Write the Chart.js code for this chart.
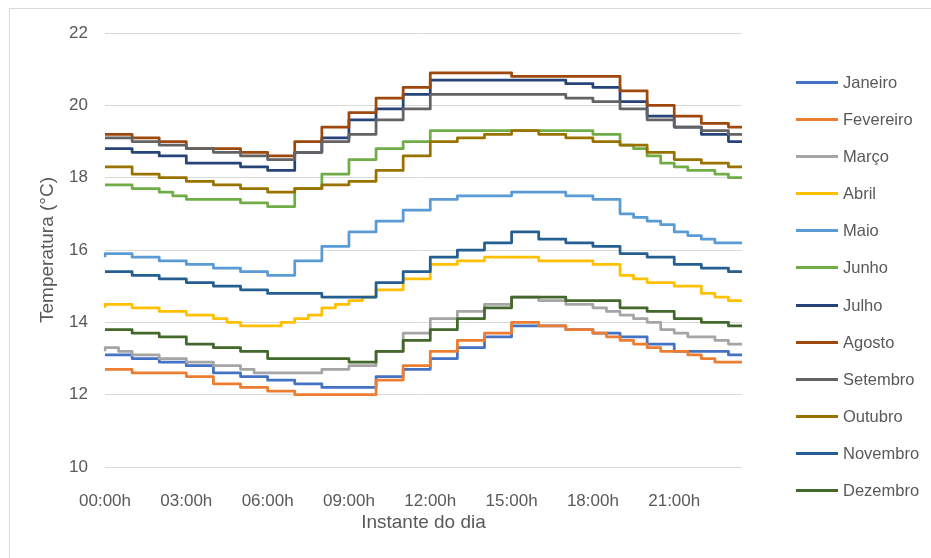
<!DOCTYPE html>
<html lang="pt">
<head>
<meta charset="UTF-8">
<title>Temperatura ao longo do dia</title>
<script src="https://cdn.jsdelivr.net/npm/chart.js@4.4.1/dist/chart.umd.min.js"></script>
<style>
  html, body { margin: 0; padding: 0; background: #fff; }
  #wrap { position: relative; width: 931px; height: 558px; overflow: hidden; font-family: 'Liberation Sans', Arial, sans-serif; }
  #frame { position: absolute; left: 9px; top: 8px; width: 930px; height: 560px; border: 1px solid #d9d9d9; pointer-events: none; }
  #chart { position: absolute; left: 0; top: 0; }
  #legend { position: absolute; left: 796px; top: 0; margin: 0; padding: 0; list-style: none; }
  #legend li { position: absolute; left: 0; height: 20px; display: flex; align-items: center; white-space: nowrap; font-size: 16.5px; color: #595959; }
  #legend li span { display: inline-block; width: 42px; height: 3px; margin-right: 5px; }
</style>
</head>
<body>
<div id="wrap">
  <canvas id="chart" width="931" height="558"></canvas>
  <ul id="legend"></ul>
  <div id="frame"></div>
</div>

<script>
// half-hour instants of the day
const labels = [
  '00:00h','00:30h','01:00h','01:30h','02:00h','02:30h','03:00h','03:30h',
  '04:00h','04:30h','05:00h','05:30h','06:00h','06:30h','07:00h','07:30h',
  '08:00h','08:30h','09:00h','09:30h','10:00h','10:30h','11:00h','11:30h',
  '12:00h','12:30h','13:00h','13:30h','14:00h','14:30h','15:00h','15:30h',
  '16:00h','16:30h','17:00h','17:30h','18:00h','18:30h','19:00h','19:30h',
  '20:00h','20:30h','21:00h','21:30h','22:00h','22:30h','23:00h','23:30h'
];

const months = ['Janeiro','Fevereiro','Março','Abril','Maio','Junho','Julho','Agosto','Setembro','Outubro','Novembro','Dezembro'];
const colors = ['#4472C4','#ED7D31','#A5A5A5','#FFC000','#5B9BD5','#70AD47','#264478','#9E480E','#636363','#997300','#255E91','#43682B'];

// temperatures (°C), one value per half hour
const janeiro = [13.1,13.1,13.1,13.0,13.0,12.9,12.9,12.8,12.8,12.6,12.6,12.5,12.5,12.4,12.4,12.3,
  12.3,12.2,12.2,12.2,12.2,12.5,12.5,12.7,12.7,13.0,13.0,13.3,13.3,13.6,13.6,13.9,
  13.9,13.9,13.9,13.8,13.8,13.7,13.7,13.6,13.6,13.4,13.4,13.2,13.2,13.2,13.2,13.1];
const fevereiro = [12.7,12.7,12.7,12.6,12.6,12.6,12.6,12.5,12.5,12.3,12.3,12.2,12.2,12.1,12.1,12.0,
  12.0,12.0,12.0,12.0,12.0,12.4,12.4,12.8,12.8,13.2,13.2,13.5,13.5,13.7,13.7,14.0,
  14.0,13.9,13.9,13.8,13.8,13.7,13.6,13.5,13.4,13.3,13.2,13.2,13.1,13.0,12.9,12.9];
const marco = [13.2,13.3,13.2,13.1,13.1,13.0,13.0,12.9,12.9,12.8,12.8,12.7,12.6,12.6,12.6,12.6,
  12.6,12.7,12.7,12.8,12.8,13.2,13.2,13.7,13.7,14.1,14.1,14.3,14.3,14.5,14.5,14.7,
  14.7,14.6,14.6,14.5,14.5,14.4,14.3,14.2,14.1,14.0,13.8,13.7,13.6,13.6,13.5,13.4];
const abril = [14.4,14.5,14.5,14.4,14.4,14.3,14.3,14.2,14.2,14.1,14.0,13.9,13.9,13.9,14.0,14.1,
  14.2,14.4,14.5,14.6,14.7,14.9,14.9,15.2,15.2,15.6,15.6,15.7,15.7,15.8,15.8,15.8,
  15.8,15.7,15.7,15.7,15.7,15.6,15.6,15.3,15.2,15.1,15.1,15.0,15.0,14.8,14.7,14.6];
const maio = [15.8,15.9,15.9,15.8,15.8,15.7,15.7,15.6,15.6,15.5,15.5,15.4,15.4,15.3,15.3,15.7,
  15.7,16.1,16.1,16.5,16.5,16.8,16.8,17.1,17.1,17.4,17.4,17.5,17.5,17.5,17.5,17.6,
  17.6,17.6,17.6,17.5,17.5,17.4,17.4,17.0,16.9,16.8,16.7,16.5,16.4,16.3,16.2,16.2];
const junho = [17.8,17.8,17.8,17.7,17.7,17.6,17.5,17.4,17.4,17.4,17.4,17.3,17.3,17.2,17.2,17.7,
  17.7,18.1,18.1,18.5,18.5,18.8,18.8,19.0,19.0,19.3,19.3,19.3,19.3,19.3,19.3,19.3,
  19.3,19.3,19.3,19.3,19.3,19.2,19.2,18.9,18.8,18.6,18.4,18.3,18.2,18.2,18.1,18.0];
const julho = [18.8,18.8,18.8,18.7,18.7,18.6,18.6,18.4,18.4,18.4,18.4,18.3,18.3,18.2,18.2,18.7,
  18.7,19.1,19.1,19.6,19.6,19.9,19.9,20.3,20.3,20.7,20.7,20.7,20.7,20.7,20.7,20.7,
  20.7,20.7,20.7,20.6,20.6,20.5,20.5,20.1,20.1,19.7,19.7,19.4,19.4,19.2,19.2,19.0];
const agosto = [19.2,19.2,19.2,19.1,19.1,19.0,19.0,18.8,18.8,18.8,18.8,18.7,18.7,18.6,18.6,19.0,
  19.0,19.4,19.4,19.8,19.8,20.2,20.2,20.5,20.5,20.9,20.9,20.9,20.9,20.9,20.9,20.8,
  20.8,20.8,20.8,20.8,20.8,20.8,20.8,20.4,20.4,20.0,20.0,19.7,19.7,19.5,19.5,19.4];
const setembro = [19.1,19.1,19.1,19.0,19.0,18.9,18.9,18.8,18.8,18.7,18.7,18.6,18.6,18.5,18.5,18.7,
  18.7,19.0,19.0,19.2,19.2,19.6,19.6,19.9,19.9,20.3,20.3,20.3,20.3,20.3,20.3,20.3,
  20.3,20.3,20.3,20.2,20.2,20.1,20.1,19.9,19.9,19.6,19.6,19.4,19.4,19.3,19.3,19.2];
const outubro = [18.3,18.3,18.3,18.1,18.1,18.0,18.0,17.9,17.9,17.8,17.8,17.7,17.7,17.6,17.6,17.7,
  17.7,17.8,17.8,17.9,17.9,18.2,18.2,18.6,18.6,19.0,19.0,19.1,19.1,19.2,19.2,19.3,
  19.3,19.2,19.2,19.1,19.1,19.0,19.0,18.9,18.9,18.7,18.7,18.5,18.5,18.4,18.4,18.3];
const novembro = [15.4,15.4,15.4,15.3,15.3,15.2,15.2,15.1,15.1,15.0,15.0,14.9,14.9,14.8,14.8,14.8,
  14.8,14.7,14.7,14.7,14.7,15.1,15.1,15.4,15.4,15.8,15.8,16.0,16.0,16.2,16.2,16.5,
  16.5,16.3,16.3,16.2,16.2,16.1,16.1,15.9,15.9,15.8,15.8,15.6,15.6,15.5,15.5,15.4];
const dezembro = [13.8,13.8,13.8,13.7,13.7,13.6,13.6,13.4,13.4,13.3,13.3,13.2,13.2,13.0,13.0,13.0,
  13.0,13.0,13.0,12.9,12.9,13.2,13.2,13.5,13.5,13.8,13.8,14.1,14.1,14.4,14.4,14.7,
  14.7,14.7,14.7,14.6,14.6,14.6,14.6,14.4,14.4,14.3,14.3,14.1,14.1,14.0,14.0,13.9];

const series = [janeiro, fevereiro, marco, abril, maio, junho, julho, agosto, setembro, outubro, novembro, dezembro];

Chart.defaults.font.family = "'Liberation Sans', Arial, sans-serif";
Chart.defaults.color = '#595959';

new Chart(document.getElementById('chart'), {
  type: 'line',
  data: {
    labels: labels,
    datasets: months.map((m, i) => ({
      label: m,
      data: series[i],
      borderColor: colors[i],
      backgroundColor: colors[i],
      borderWidth: 2.75,
      borderJoinStyle: 'round',
      pointRadius: 0,
      stepped: 'after',
      fill: false,
      order: months.length - i   // later months drawn on top, like Excel
    }))
  },
  options: {
    responsive: false,
    animation: false,
    devicePixelRatio: 1,
    layout: { padding: { top: 33, right: 189, bottom: 0, left: 0 } },
    plugins: {
      legend: { display: false },
      tooltip: { enabled: false }
    },
    scales: {
      x: {
        offset: false,
        grid: { display: false },
        border: { display: false },
        ticks: {
          autoSkip: false,
          maxRotation: 0,
          padding: 16,
          font: { size: 17 },
          callback: function(value, index) {
            return index % 6 === 0 ? this.getLabelForValue(value) : '';
          }
        },
        title: { display: true, text: 'Instante do dia', font: { size: 19 }, padding: { top: 0, bottom: 24 } },
        afterFit: scale => { scale.height = 91; }
      },
      y: {
        min: 10,
        max: 22,
        ticks: { stepSize: 2, padding: 17, font: { size: 17 } },
        grid: { color: '#d9d9d9', drawTicks: false },
        border: { display: false },
        title: { display: true, text: 'Temperatura (°C)', font: { size: 19 }, padding: { top: 36, bottom: 0 } },
        afterFit: scale => { scale.width = 105; }
      }
    }
  }
});

// legend on the right, one row per month
const legend = document.getElementById('legend');
months.forEach((m, i) => {
  const li = document.createElement('li');
  li.style.top = (72 + i * 37.18) + 'px';
  li.innerHTML = '<span style="background:' + colors[i] + '"></span>' + m;
  legend.appendChild(li);
});
</script>
</body>
</html>
